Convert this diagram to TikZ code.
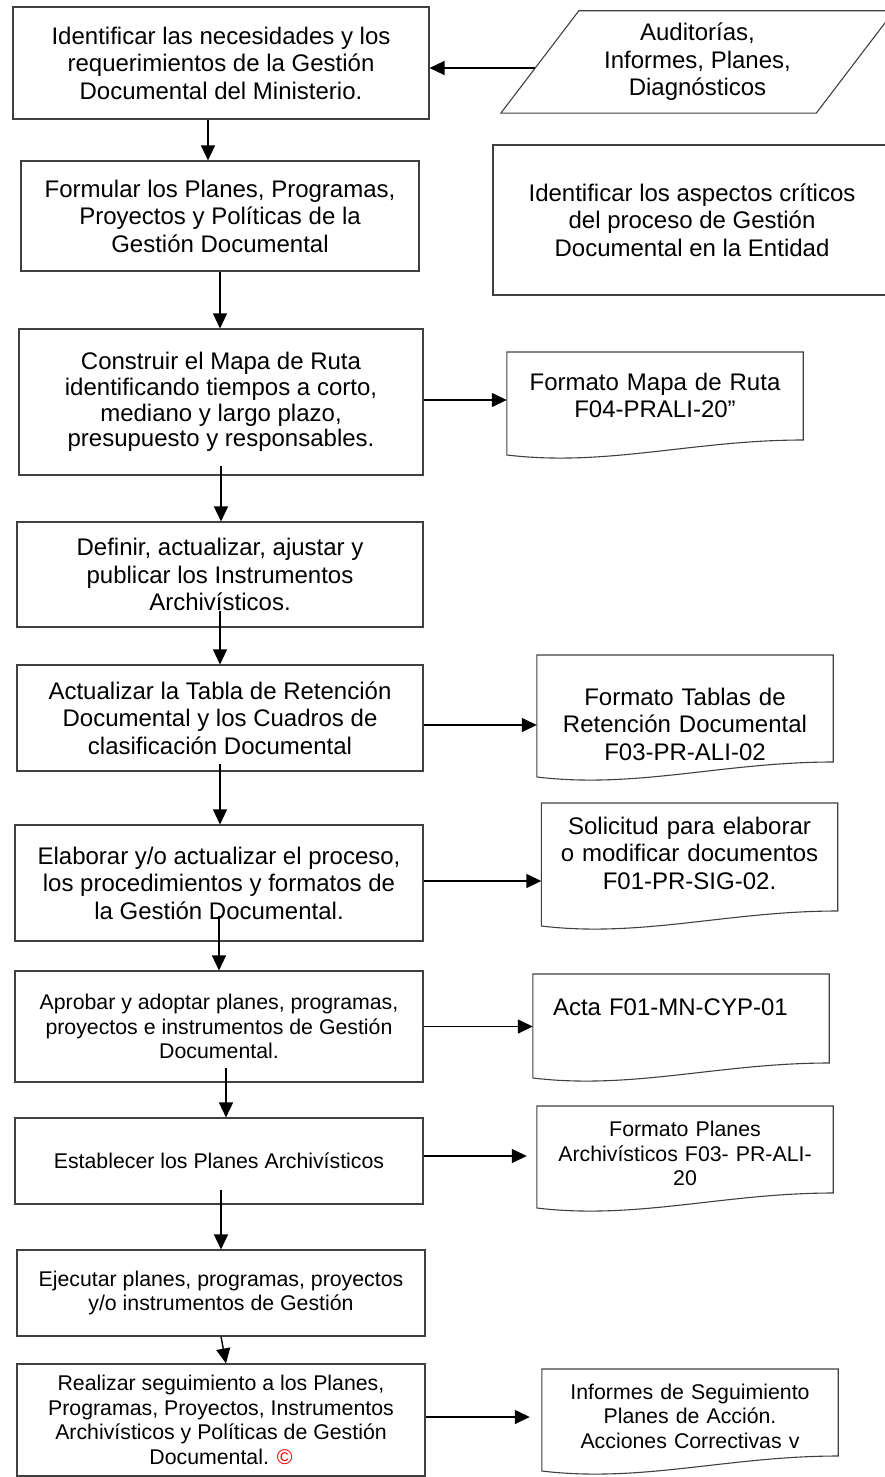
\documentclass[tikz,border=0pt]{standalone}
\usepackage{fontspec}
\setmainfont{Liberation Sans}
\usetikzlibrary{calc,positioning,arrows.meta,shapes.geometric}

\newcommand{\grande}{\fontsize{24}{27.5}\selectfont}
\newcommand{\chica}{\fontsize{21.3}{24.5}\selectfont}
% marco de documento (borde inferior ondulado) alrededor del nodo #1
\newcommand{\docmarco}[3]{%
  \draw[linea] ([yshift=#2]#1.west) -- ([yshift=#2]#1.east)
    -- ([yshift=-#3+15pt]#1.east)
    .. controls ([xshift=-110pt,yshift=-#3+15pt]#1.east) and ([xshift=100pt,yshift=-#3-12pt]#1.west)
    .. ([yshift=-#3]#1.west) -- cycle;}

\tikzset{
  linea/.style={draw=black!75,line width=1.1pt},
  proceso/.style={linea,rectangle,align=center,inner sep=0pt,font=\grande},
  documento/.style={align=center,text width=296pt,inner xsep=0pt,font=\grande},
  flecha/.style={-{Triangle[length=15pt,width=14pt]},line width=1.4pt},
}

\begin{document}
\begin{tikzpicture}[x=1pt,y=-1pt]
\useasboundingbox (0,0) rectangle (885,1477);
\clip (0,0) rectangle (885,1477);

% columna de procesos
\node[proceso,minimum width=416pt,minimum height=112pt] (b1) at (221,63)
  {Identificar las necesidades y los\\requerimientos de la Gestión\\Documental del Ministerio.};
\node[proceso,minimum width=398pt,minimum height=110pt] (b2) at (220,216)
  {Formular los Planes, Programas,\\Proyectos y Políticas de la\\Gestión Documental};
\node[proceso,minimum width=404pt,minimum height=146pt,font=\fontsize{24}{25.7}\selectfont] (b3) at (221,402)
  {Construir el Mapa de Ruta\\identificando tiempos a corto,\\mediano y largo plazo,\\presupuesto y responsables.};
\node[proceso,minimum width=406pt,minimum height=105pt] (b4) at (220,574.5)
  {Definir, actualizar, ajustar y\\publicar los Instrumentos\\Archivísticos.};
\node[proceso,minimum width=406pt,minimum height=106pt] (b5) at (220,718)
  {Actualizar la Tabla de Retención\\Documental y los Cuadros de\\clasificación Documental};
\node[proceso,minimum width=408pt,minimum height=116pt] (b6) at (219,883)
  {Elaborar y/o actualizar el proceso,\\los procedimientos y formatos de\\la Gestión Documental.};
\node[proceso,minimum width=408pt,minimum height=111pt,font=\chica] (b7) at (219,1026.5)
  {Aprobar y adoptar planes, programas,\\proyectos e instrumentos de Gestión\\Documental.};
\node[proceso,minimum width=408pt,minimum height=86pt,font=\chica] (b8) at (219,1161)
  {Establecer los Planes Archivísticos};
\node[proceso,minimum width=408pt,minimum height=86pt,font=\chica] (b9) at (221,1293)
  {Ejecutar planes, programas, proyectos\\y/o instrumentos de Gestión};
\node[proceso,minimum width=408pt,minimum height=112pt,font=\chica] (b10) at (221,1420)
  {Realizar seguimiento a los Planes,\\Programas, Proyectos, Instrumentos\\Archivísticos y Políticas de Gestión\\Documental. {\color{red}©}};

% entradas y aspectos criticos
\node[font=\grande,align=center,minimum width=393pt,minimum height=102pt,inner sep=0pt] (aud) at (697.5,62)
  {Auditorías,\\Informes, Planes,\\Diagnósticos};
\draw[linea] (aud.south west) -- ([xshift=78pt]aud.north west) -- (aud.north east) -- ([xshift=-78pt]aud.south east) -- cycle;
\coordinate (audin) at ([xshift=34pt,yshift=-6pt]aud.west);
\node[proceso,minimum width=398pt,minimum height=150pt] (crit) at (692,220)
  {Identificar los aspectos críticos\\del proceso de Gestión\\Documental en la Entidad};

% documentos
\node[documento] (d1) at (655,395.5) {Formato Mapa de Ruta\\F04-PRALI-20”};
\docmarco{d1}{43.5pt}{59.5pt}
\node[documento] (d2) at (685,724) {Formato Tablas de\\Retención Documental\\F03-PR-ALI-02};
\docmarco{d2}{69pt}{53pt}
\node[documento] (d3) at (689.5,853) {Solicitud para elaborar\\o modificar documentos\\F01-PR-SIG-02.};
\docmarco{d3}{50pt}{73pt}
\node[documento,align=left,text width=256pt,inner xsep=20pt] (d4) at (681,1007) {Acta F01-MN-CYP-01};
\docmarco{d4}{33pt}{71pt}
\node[documento,font=\chica] (d5) at (685,1153.5) {Formato Planes\\Archivísticos F03- PR-ALI-\\20};
\docmarco{d5}{47.5pt}{54.5pt}
\node[documento,font=\chica] (d6) at (690,1416) {Informes de Seguimiento\\Planes de Acción.\\Acciones Correctivas v};
\docmarco{d6}{47pt}{55pt}

% flechas
\draw[flecha] (audin) -- (audin -| b1.east);
\draw[flecha] ([xshift=-13pt]b1.south) -- ([xshift=-13pt]b1.south |- b2.north);
\draw[flecha] (b2.south) -- (b2.south |- b3.north);
\draw[flecha] ([yshift=10pt]b3.south) -- (b3.south |- b4.north);
\draw[flecha] ([yshift=17pt]b4.south) -- (b4.south |- b5.north);
\draw[flecha] ([yshift=8pt]b5.south) -- (b5.south |- b6.north);
\draw[flecha] ([yshift=26pt]b6.south) -- (b6.south |- b7.north);
\draw[flecha] ([xshift=7pt,yshift=15pt]b7.south) -- ([xshift=7pt]b7.south |- b8.north);
\draw[flecha] ([xshift=2pt,yshift=15pt]b8.south) -- ([xshift=2pt]b8.south |- b9.north);
\draw[flecha] (b9.south) -- ([xshift=5pt]b10.north);

\draw[flecha] ([yshift=2pt]b3.east) -- ([yshift=2pt]b3.east -| d1.west);
\draw[flecha] ([yshift=-7pt]b5.east) -- ([yshift=-7pt]b5.east -| d2.west);
\draw[flecha] ([yshift=2pt]b6.east) -- ([yshift=2pt]b6.east -| d3.west);
\draw[flecha] (b7.east) -- (b7.east -| d4.west);
\draw[flecha,shorten >=10pt] ([yshift=5pt]b8.east) -- ([yshift=5pt]b8.east -| d5.west);
\draw[flecha,shorten >=12pt] ([yshift=3pt]b10.east) -- ([yshift=3pt]b10.east -| d6.west);
\end{tikzpicture}
\end{document}
